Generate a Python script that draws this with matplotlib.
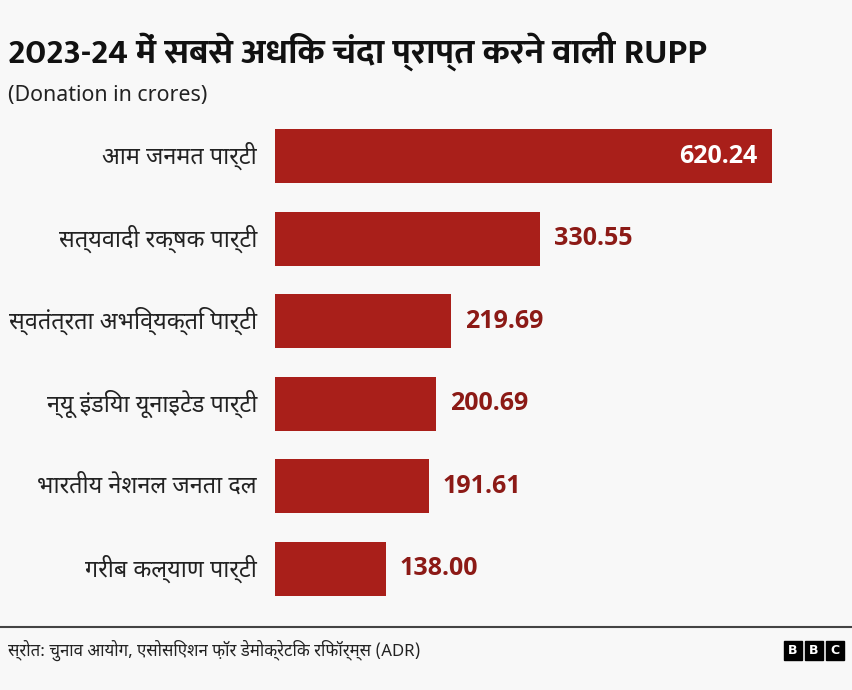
import matplotlib
matplotlib.use("Agg")
import matplotlib.pyplot as plt
from matplotlib import font_manager
from matplotlib.patches import Rectangle

parties = ['आम जनमत पार्टी', 'सत्यवादी रक्षक पार्टी', 'स्वतंत्रता अभिव्यक्ति पार्टी',
           'न्यू इंडिया यूनाइटेड पार्टी', 'भारतीय नेशनल जनता दल', 'गरीब कल्याण पार्टी']
donations = [620.24, 330.55, 219.69, 200.69, 191.61, 138.00]

title = '2023-24 में सबसे अधिक चंदा प्राप्त करने वाली RUPP'
subtitle = '(Donation in crores)'
source = 'स्रोत: चुनाव आयोग, एसोसिएशन फ़ॉर डेमोक्रेटिक रिफॉर्म्स (ADR)'


def bold_family(cands):
    # first family that really has a bold face file
    for c in cands:
        try:
            fp = font_manager.FontProperties(family=c, weight='bold')
            path = font_manager.findfont(fp, fallback_to_default=False)
            if 'bold' in path.lower():
                return c
        except Exception:
            pass
    return cands[-1]


plt.rcParams['font.family'] = ['Noto Sans Devanagari', 'Noto Sans', 'DejaVu Sans']
deva_bold = bold_family(['Noto Sans Devanagari', 'Mukta', 'Hind', 'Ek Mukta', 'DejaVu Sans'])
num_bold = bold_family(['Noto Sans', 'Open Sans', 'Lato', 'Roboto', 'DejaVu Sans'])

bg = '#f8f8f8'
bar_col = '#a91f1a'
lab_col = '#8c1a16'

fig = plt.figure(figsize=(8.52, 6.90), dpi=100, facecolor=bg)
W, H = 852, 690

ax = fig.add_axes([275 / W, 1 - 610 / H, 570 / W, 495 / H])
ax.set_facecolor(bg)
y = list(range(len(parties)))
ax.barh(y, donations, height=0.655, color=bar_col)
ax.set_xlim(0, 570 / 0.8013)
ax.set_ylim(len(parties) - 0.5, -0.5)
ax.axis('off')

for i, (p, v) in enumerate(zip(parties, donations)):
    ax.annotate(p, (0, i), xytext=(-18, 0), textcoords='offset pixels',
                ha='right', va='center', fontsize=16.8, color='#222222')
    if i == 0:
        ax.annotate(f'{v:.2f}', (v, i), xytext=(-15, 0), textcoords='offset pixels',
                    ha='right', va='center', fontsize=18, fontweight='bold', color='white',
                    family=num_bold)
    else:
        ax.annotate(f'{v:.2f}', (v, i), xytext=(14, 0), textcoords='offset pixels',
                    ha='left', va='center', fontsize=18, fontweight='bold', color=lab_col,
                    family=num_bold)

fig.text(8 / W, 1 - 51 / H, title, fontsize=25.5, fontweight='bold', color='#111111',
         ha='left', va='center', family=[deva_bold, num_bold, 'DejaVu Sans'])
fig.text(8 / W, 1 - 95 / H, subtitle, fontsize=15.4, color='#222222', ha='left', va='center',
         family='Noto Sans')

fig.add_artist(plt.Line2D([0, 1], [1 - 627 / H, 1 - 627 / H], color='#444444', lw=1.5))
fig.text(8 / W, 1 - 650 / H, source, fontsize=12.1, color='#222222', ha='left', va='center')

for k, letter in enumerate('BBC'):
    x0 = 784 + k * 21
    fig.add_artist(Rectangle((x0 / W, 1 - 660 / H), 18 / W, 19 / H, color='black',
                             transform=fig.transFigure))
    fig.text((x0 + 9) / W, 1 - 650.5 / H, letter, fontsize=9, fontweight='bold',
             color='white', ha='center', va='center', family='DejaVu Sans')

fig.savefig('out.png', dpi=100, facecolor=bg)
